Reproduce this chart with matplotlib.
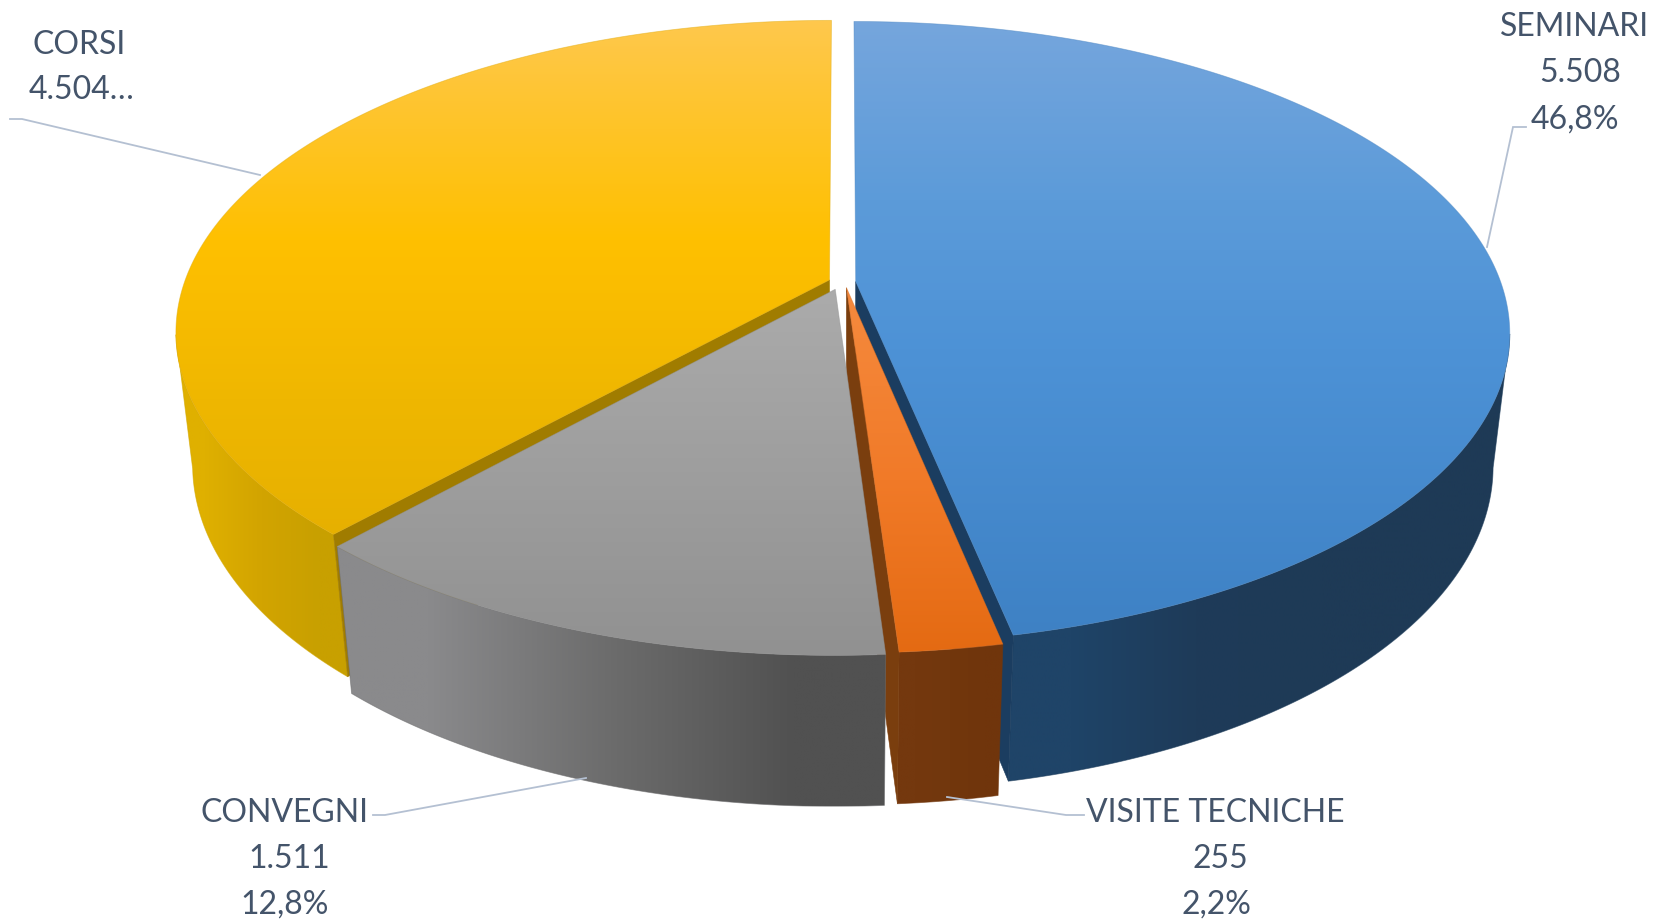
import numpy as np
import matplotlib
matplotlib.use("Agg")
import matplotlib.pyplot as plt
from matplotlib.colors import to_rgb
from matplotlib.patches import Polygon

categories = ["SEMINARI", "VISITE TECNICHE", "CORSI", "CONVEGNI"]
values = [5508, 255, 4504, 1511]
value_labels = ["5.508", "255", "4.504…", "1.511"]
pct_labels = ["46,8%", "2,2%", "", "12,8%"]
# pie order clockwise from 12 o'clock
pie_order = ["SEMINARI", "VISITE TECNICHE", "CONVEGNI", "CORSI"]

W, H = 1655, 919
CX, CY = 843.5, 282.0
A, B, K = 645.0, 303.0, 0.165
EZ, CZ = 0.025, 135.0
EXPL = 0.019

styles = {
    "SEMINARI": dict(
        top=[(18, "#76A6DD"), (200, "#5C9BD9"), (350, "#4D92D6"), (640, "#3E81C4")],
        side=["#1F4468", "#1E3B59", "#1E3A56", "#1E3A56"], wall="#1B3D60", wall_at="end",
        nudge=(0.0, 0.0), depth=1.0),
    "VISITE TECNICHE": dict(
        top=[(290, "#F58A3E"), (480, "#F17A28"), (655, "#E46A12")],
        side=["#74380E", "#72370D", "#70350C"], wall="#7A3E0E", wall_at="end",
        nudge=(0.002, 0.0), depth=1.035),
    "CONVEGNI": dict(
        top=[(290, "#ABABAB"), (430, "#A1A1A1"), (655, "#919191")],
        side=["#8A8A8C", "#6C6C6C", "#515151"], wall=None, wall_at=None,
        nudge=(-0.0065, 0.006), depth=1.03),
    "CORSI": dict(
        top=[(18, "#FEC84E"), (240, "#FFC000"), (400, "#EFB700"), (540, "#E6B000")],
        side=["#DFB000", "#D2A400", "#C8A000"], wall="#A07C00", wall_at="start",
        nudge=(-0.004, 0.0), depth=1.0),
}
draw_order = ["CORSI", "SEMINARI", "VISITE TECNICHE", "CONVEGNI"]


def project(x, y, z):
    w = 1 - K * y + EZ * z
    return CX + A * x / w, CY + (B * y + CZ * z) / w


def gradient_fill(ax, px, py, img, extent, z, edge, edge_alpha=0.6):
    im = ax.imshow(img, extent=extent, aspect="auto", interpolation="bilinear", zorder=z)
    clip = Polygon(np.column_stack([px, py]), closed=True, transform=ax.transData,
                   fc="none", ec="none")
    ax.add_patch(clip)
    im.set_clip_path(clip)
    ax.add_patch(Polygon(np.column_stack([px, py]), closed=True, fc="none", ec=edge, lw=0.6,
                         alpha=edge_alpha, zorder=z + 0.5))


fig = plt.figure(figsize=(W / 100, H / 100), dpi=100)
ax = fig.add_axes([0, 0, 1, 1])

lookup = dict(zip(categories, values))
total = sum(values)
start = 0.0
spans = {}
for name in pie_order:
    frac = lookup[name] / total
    spans[name] = (start, start + frac * 2 * np.pi)
    start += frac * 2 * np.pi

for order, name in enumerate(draw_order):
    t0, t1 = spans[name]
    st = styles[name]
    mid = (t0 + t1) / 2
    ox = EXPL * np.sin(mid) + st["nudge"][0]
    oy = -EXPL * np.cos(mid) + st["nudge"][1]
    d = st["depth"]
    n = max(int(np.degrees(t1 - t0) * 2), 8)
    th = np.linspace(t0, t1, n + 1)
    rx, ry = ox + np.sin(th), oy - np.cos(th)
    X0, Y0 = project(rx, ry, 0)

    # outer side: only the part that faces the viewer, shaded left to right
    front = ry > K
    XT, YT = X0[front], Y0[front]
    XB, YB = project(rx[front], ry[front], d)
    sx = np.r_[XT, XB[::-1]]
    sy = np.r_[YT, YB[::-1]]
    scol = np.array([to_rgb(c) for c in st["side"]])
    side_img = scol[None, :, :]
    gradient_fill(ax, sx, sy, side_img, (sx.min(), sx.max(), sy.max(), sy.min()),
                  order * 10 + 1, tuple(scol.mean(axis=0)))

    # inner wall
    if st["wall"]:
        ang = t1 if st["wall_at"] == "end" else t0
        wx, wy = ox + np.sin(ang), oy - np.cos(ang)
        poly = [project(ox, oy, 0), project(wx, wy, 0), project(wx, wy, d), project(ox, oy, d)]
        ax.add_patch(Polygon(poly, closed=True, fc=st["wall"], ec=st["wall"], lw=0.4,
                             zorder=order * 10 + 2))

    # top face with vertical gradient
    ax0, ay0 = project(ox, oy, 0)
    px = np.r_[ax0, X0]
    py = np.r_[ay0, Y0]
    stops_y = [s[0] for s in st["top"]]
    rows = np.arange(py.min() - 3, py.max() + 4)
    rgb = np.array([to_rgb(s[1]) for s in st["top"]])
    grad = np.column_stack([np.interp(rows, stops_y, rgb[:, i]) for i in range(3)])[:, None, :]
    gradient_fill(ax, px, py, grad, (px.min() - 3, px.max() + 3, rows[-1], rows[0]),
                  order * 10 + 3, tuple(rgb.mean(axis=0) * 0.92), 0.5)

# leader lines
LEAD = "#B4C0D2"
leaders = {
    "SEMINARI": [(1487, 247), (1513, 127), (1526, 127)],
    "CORSI": [(10, 119), (22, 119), (260, 175)],
    "CONVEGNI": [(373, 815), (385, 815), (586, 778)],
    "VISITE TECNICHE": [(1084, 815), (1066, 815), (947, 797)],
}
for pts in leaders.values():
    xs, ys = zip(*pts)
    ax.plot(xs, ys, color=LEAD, lw=1.3, zorder=60, solid_joinstyle="miter")

# labels
TXT = "#44546A"
FS = 23.0
label_pos = {
    "SEMINARI": [(1575, 24), (1580, 70), (1575, 117)],
    "VISITE TECNICHE": [(1215, 810), (1220, 856), (1216, 902)],
    "CONVEGNI": [(284, 810), (289, 856), (285, 902)],
    "CORSI": [(79, 42), (82, 87)],
}
for name, val, pct in zip(categories, value_labels, pct_labels):
    lines = [name, val] + ([pct] if pct else [])
    for s, (x, y) in zip(lines, label_pos[name]):
        ax.text(x, y, s, ha="center", va="center_baseline", fontsize=FS, color=TXT,
                family=["Lato", "DejaVu Sans"], zorder=70)

ax.set_xlim(0, W)
ax.set_ylim(H, 0)
ax.axis("off")
fig.savefig("out.png", dpi=100, facecolor="white")
